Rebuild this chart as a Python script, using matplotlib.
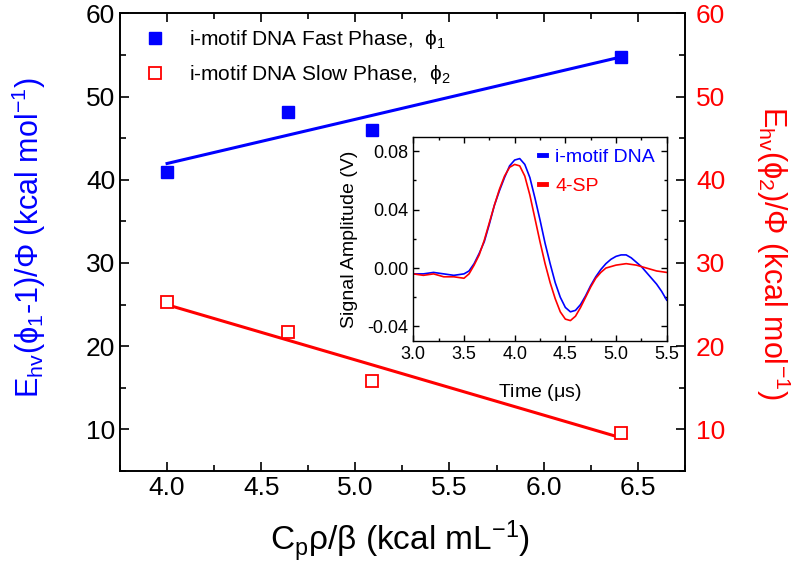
import numpy as np
import matplotlib
matplotlib.use("Agg")
import matplotlib.pyplot as plt

plt.rcParams['font.family'] = ['Liberation Sans', 'DejaVu Sans']
plt.rcParams['mathtext.fontset'] = 'custom'
plt.rcParams['mathtext.rm'] = 'Liberation Sans'
plt.rcParams['mathtext.it'] = 'Liberation Sans:italic'
plt.rcParams['mathtext.default'] = 'regular'

# main data
cp_rho_beta = [4.0, 4.645, 5.09, 6.41]
fast_phase = [40.9, 48.1, 46.0, 54.8]
slow_phase = [25.3, 21.7, 15.8, 9.6]

# inset traces
t_imotif = [3.0, 3.1, 3.2, 3.3, 3.4, 3.5, 3.55, 3.6, 3.65, 3.7, 3.75, 3.8, 3.85, 3.9,
            3.95, 4.0, 4.05, 4.1, 4.15, 4.2, 4.25, 4.3, 4.35, 4.4, 4.45, 4.5, 4.55,
            4.6, 4.65, 4.7, 4.75, 4.8, 4.85, 4.9, 4.95, 5.0, 5.05, 5.1, 5.15, 5.2,
            5.25, 5.3, 5.35, 5.4, 5.45, 5.5]
sig_imotif = [-0.004, -0.004, -0.003, -0.004, -0.005, -0.004, -0.002, 0.003, 0.010,
              0.018, 0.030, 0.043, 0.053, 0.062, 0.070, 0.074, 0.075, 0.071, 0.062,
              0.048, 0.033, 0.017, 0.003, -0.010, -0.020, -0.027, -0.030, -0.029,
              -0.025, -0.019, -0.012, -0.006, -0.001, 0.003, 0.006, 0.008, 0.009,
              0.009, 0.007, 0.004, 0.001, -0.003, -0.007, -0.011, -0.016, -0.022]
t_4sp = [3.0, 3.1, 3.2, 3.3, 3.4, 3.5, 3.55, 3.6, 3.65, 3.7, 3.75, 3.8, 3.85, 3.9,
         3.95, 4.0, 4.05, 4.1, 4.15, 4.2, 4.25, 4.3, 4.35, 4.4, 4.45, 4.5, 4.55,
         4.6, 4.65, 4.7, 4.75, 4.8, 4.85, 4.9, 4.95, 5.0, 5.1, 5.2, 5.3, 5.4, 5.5]
sig_4sp = [-0.004, -0.005, -0.004, -0.006, -0.006, -0.007, -0.004, 0.002, 0.009,
           0.019, 0.031, 0.043, 0.054, 0.063, 0.069, 0.071, 0.070, 0.063, 0.050,
           0.034, 0.018, 0.003, -0.010, -0.021, -0.030, -0.035, -0.036, -0.033,
           -0.027, -0.020, -0.013, -0.007, -0.003, 0.000, 0.001, 0.002, 0.003,
           0.002, 0.000, -0.002, -0.003]

blue = '#0000ff'
red = '#ff0000'

fig = plt.figure(figsize=(8, 5.66), dpi=100)
ax = fig.add_axes([0.15, 0.168, 0.706, 0.8085])
ax2 = ax.twinx()

# linear fits
xfit = np.array([cp_rho_beta[0], cp_rho_beta[-1]])
pf = np.polyfit(cp_rho_beta, fast_phase, 1)
ps = np.polyfit(cp_rho_beta, slow_phase, 1)

ax.plot(xfit, np.polyval(pf, xfit), color=blue, lw=2.2)
ax.plot(cp_rho_beta, fast_phase, 's', color=blue, ms=8, ls='none',
        label=r'i-motif DNA Fast Phase,  $\phi_1$')
ax.plot([], [], 's', mfc='white', mec=red, mew=1.3, ms=8, ls='none',
        label=r'i-motif DNA Slow Phase,  $\phi_2$')
ax2.plot(xfit, np.polyval(ps, xfit), color=red, lw=2.2)
ax2.plot(cp_rho_beta, slow_phase, 's', mfc='white', mec=red, mew=1.3, ms=8, ls='none')

ax.set_xlim(3.75, 6.75)
ax.set_ylim(5, 60)
ax2.set_ylim(5, 60)
ax.set_xticks([4.0, 4.5, 5.0, 5.5, 6.0, 6.5])
ax.set_xticks(np.arange(3.75, 6.76, 0.25), minor=True)
for a in (ax, ax2):
    a.set_yticks([10, 20, 30, 40, 50, 60])
    a.set_yticks(np.arange(5, 61, 5), minor=True)
    for s in a.spines.values():
        s.set_linewidth(1.2)

ax.tick_params(which='both', direction='in', top=True, right=False, labelsize=19, width=1.2)
ax.tick_params(which='major', length=6.5)
ax.tick_params(which='minor', length=4)
ax2.tick_params(which='both', direction='in', labelsize=19, labelcolor=red, width=1.2)
ax2.tick_params(which='major', length=6.5, pad=8)
ax2.tick_params(which='minor', length=4)
ax.set_xticklabels(['4.0', '4.5', '5.0', '5.5', '6.0', '6.5'])

ax.set_xlabel(r'C$_p\rho/\beta$ (kcal mL$^{-1}$)', fontsize=24)
ax.xaxis.set_label_coords(0.496, -0.105)
ax.set_ylabel(r'E$_{hv}$($\phi_1$-1)/$\Phi$ (kcal mol$^{-1}$)', fontsize=22, color=blue)
ax.yaxis.set_label_coords(-0.128, 0.51)
ax2.set_ylabel(r'E$_{hv}$($\phi_2$)/$\Phi$ (kcal mol$^{-1}$)', fontsize=22, color=red,
               rotation=270)
ax2.yaxis.set_label_coords(1.19, 0.476)

ax.legend(loc='upper left', frameon=False, fontsize=15, handletextpad=0.6,
          borderaxespad=0.3, labelspacing=0.6, bbox_to_anchor=(0.0, 1.0))

# inset
ins = fig.add_axes([0.5166, 0.3975, 0.3168, 0.361])
ins.plot(t_imotif, sig_imotif, color=blue, lw=1.2, label='i-motif DNA')
ins.plot(t_4sp, sig_4sp, color=red, lw=1.2, label='4-SP')
ins.set_xlim(3.0, 5.5)
ins.set_ylim(-0.05, 0.09)
ins.set_xticks([3.0, 3.5, 4.0, 4.5, 5.0, 5.5])
ins.set_xticks(np.arange(3.0, 5.51, 0.25), minor=True)
ins.set_yticks([-0.04, 0.0, 0.04, 0.08])
ins.set_yticks(np.arange(-0.04, 0.081, 0.02), minor=True)
ins.set_yticklabels(['-0.04', '0.00', '0.04', '0.08'])
ins.tick_params(which='both', direction='in', top=True, right=True, labelsize=13, width=1)
ins.tick_params(which='major', length=4)
ins.tick_params(which='minor', length=2.5)
for s in ins.spines.values():
    s.set_linewidth(1)
ins.set_xlabel(r'Time ($\mu$s)', fontsize=14)
ins.set_ylabel('Signal Amplitude (V)', fontsize=14)
ins.xaxis.set_label_coords(0.5, -0.2)
ins.yaxis.set_label_coords(-0.22, 0.5)
leg = ins.legend(loc='upper right', frameon=False, fontsize=14, handlelength=0.35,
                 handletextpad=0.5, borderaxespad=0.2, labelspacing=0.6)
for line, txt in zip(leg.get_lines(), leg.get_texts()):
    line.set_linewidth(3.5)
    txt.set_color(line.get_color())

fig.savefig('out.png', dpi=100)
